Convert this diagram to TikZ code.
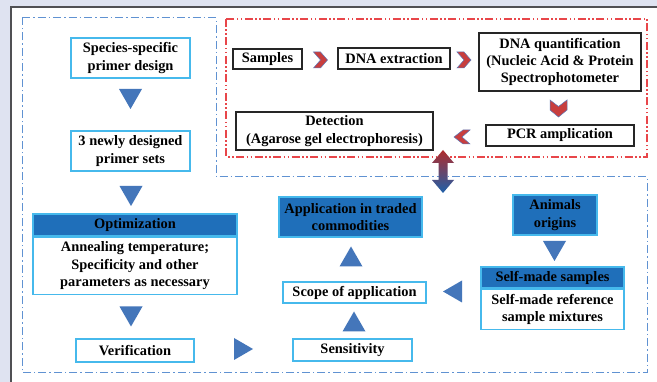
\documentclass[tikz,border=0pt]{standalone}
\usepackage{fontspec}
\setmainfont{Liberation Serif}
\usetikzlibrary{calc}
\definecolor{bgc}{RGB}{223,227,241}
\definecolor{panelc}{RGB}{80,80,84}
\definecolor{bluedash}{RGB}{96,146,210}
\definecolor{reddash}{RGB}{232,70,74}
\definecolor{cyanb}{RGB}{70,185,236}
\definecolor{darkb}{RGB}{31,111,186}
\definecolor{trib}{RGB}{68,118,186}
\definecolor{chevr}{RGB}{200,62,62}
\definecolor{chevb}{RGB}{90,120,185}
\definecolor{arrred}{RGB}{176,44,44}
\definecolor{arrblue}{RGB}{30,96,170}
\tikzset{
  txt/.style={font=\fontsize{14.4}{17.4}\selectfont\bfseries, align=center, inner sep=0pt},
  cbox/.style={txt, draw=cyanb, line width=1.3pt, fill=white},
  dbox/.style={txt, draw=cyanb, line width=1.3pt, fill=darkb},
  kbox/.style={txt, draw=black!85, line width=1.3pt, fill=white},
  tri/.style={fill=trib},
  chev/.style={fill=chevr, draw=chevb, line width=0.5pt},
}
\begin{document}
\begin{tikzpicture}[x=1pt,y=-1pt]
\useasboundingbox (0,0) rectangle (657,382);
\fill[bgc] (0,0) rectangle (657,382);
\fill[white] (11,7) rectangle (660,385);
\draw[panelc, line width=1.6pt] (11,385) -- (11,7) -- (660,7);
% dash-dot regions
\draw[bluedash, line width=1pt, dash pattern=on 8pt off 3pt on 1.5pt off 3pt]
  (22,18) -- (216,18) -- (216,177) -- (647,177) -- (647,373) -- (22,373) -- cycle;
\draw[reddash, line width=1.1pt, dash pattern=on 8pt off 2.5pt on 1.5pt off 2.5pt on 1.5pt off 2.5pt]
  (226,19) rectangle (647,157);
% left column
\node[cbox, minimum width=119pt, minimum height=40pt] (spd) at (130.5,58) {Species-specific\\primer design};
\node[cbox, minimum width=119pt, minimum height=40pt] (nds) at (130.5,151) {3 newly designed\\primer sets};
\node[dbox, minimum width=204pt, minimum height=22pt] (opth) at (135,225) {Optimization};
\node[cbox, minimum width=204pt, minimum height=57pt, anchor=north] (optb) at (opth.south) {Annealing temperature;\\Specificity and other\\parameters as necessary};
\node[cbox, minimum width=118pt, minimum height=23pt] (ver) at (135,350.5) {Verification};
% middle column
\node[cbox, minimum width=119pt, minimum height=22pt] (sens) at (352.5,350) {Sensitivity};
\node[cbox, minimum width=143pt, minimum height=21pt] (scope) at (354.5,292.5) {Scope of application};
\node[dbox, minimum width=143pt, minimum height=40pt] (app) at (350.5,217) {Application in traded\\commodities};
% right column
\node[dbox, minimum width=84pt, minimum height=40pt] (ani) at (555,215) {Animals\\origins};
\node[dbox, minimum width=143pt, minimum height=21pt] (selfh) at (552.5,277.5) {Self-made samples};
\node[cbox, minimum width=143pt, minimum height=40pt, anchor=north] (selfb) at (selfh.south) {Self-made reference\\sample mixtures};
% red region
\node[kbox, minimum width=69pt, minimum height=20pt] (samp) at (267.5,59) {Samples};
\node[kbox, minimum width=112pt, minimum height=21pt] (dnae) at (394,58.5) {DNA extraction};
\node[kbox, minimum width=162pt, minimum height=58pt] (dnaq) at (560,62) {DNA quantification\\(Nucleic Acid \& Protein\\Spectrophotometer};
\node[kbox, minimum width=148pt, minimum height=21pt] (pcr) at (560,135.5) {PCR amplication};
\node[kbox, minimum width=197pt, minimum height=38pt] (det) at (334.5,131) {Detection\\(Agarose gel electrophoresis)};
% triangles (blue)
\coordinate (t1) at (130.5,99);
\coordinate (t2) at (131,196);
\coordinate (t3) at (131,316.5);
\coordinate (t4) at (243.5,349);
\coordinate (t5) at (354,321.5);
\coordinate (t6) at (351,256.5);
\coordinate (t7) at (554.5,251);
\coordinate (t8) at (452.5,291.5);
\foreach \c in {t1,t2,t3,t7}
  \fill[tri] ($(\c)+(-11.5,-10)$) -- ($(\c)+(11.5,-10)$) -- ($(\c)+(0,10)$) -- cycle;
\fill[tri] ($(t4)+(-9.5,-11)$) -- ($(t4)+(9.5,0)$) -- ($(t4)+(-9.5,11)$) -- cycle;
\fill[tri] ($(t8)+(9.5,-11)$) -- ($(t8)+(-9.5,0)$) -- ($(t8)+(9.5,11)$) -- cycle;
\foreach \c in {t5,t6}
  \fill[tri] ($(\c)+(-11.5,10)$) -- ($(\c)+(11.5,10)$) -- ($(\c)+(0,-10)$) -- cycle;
% chevrons (red)
\coordinate (c1) at (320.5,60);
\coordinate (c2) at (464,60);
\coordinate (c3) at (558.5,108.5);
\coordinate (c4) at (462,137);
\foreach \c in {c1,c2}
  \draw[chev] ($(\c)+(-7,-8)$) -- ($(\c)+(0,-8)$) -- ($(\c)+(7,0)$) -- ($(\c)+(0,8)$) -- ($(\c)+(-7,8)$) -- ($(\c)+(0,0)$) -- cycle;
\draw[chev] ($(c3)+(-8.5,-8.5)$) -- ($(c3)+(0,-2)$) -- ($(c3)+(8.5,-8.5)$) -- ($(c3)+(8.5,1.5)$) -- ($(c3)+(0,8.5)$) -- ($(c3)+(-8.5,1.5)$) -- cycle;
\draw[chev] ($(c4)+(8,-7)$) -- ($(c4)+(1,-7)$) -- ($(c4)+(-8,0)$) -- ($(c4)+(1,7)$) -- ($(c4)+(8,7)$) -- ($(c4)+(0,0)$) -- cycle;
% double arrow between regions
\coordinate (da) at (443,171.5);
\shade[top color=arrred, bottom color=arrblue]
  ($(da)+(0,-21.5)$) -- ($(da)+(11,-8.5)$) -- ($(da)+(4.5,-8.5)$) -- ($(da)+(4.5,8.5)$) -- ($(da)+(11,8.5)$)
  -- ($(da)+(0,21.5)$) -- ($(da)+(-11,8.5)$) -- ($(da)+(-4.5,8.5)$) -- ($(da)+(-4.5,-8.5)$) -- ($(da)+(-11,-8.5)$) -- cycle;
\end{tikzpicture}
\end{document}
